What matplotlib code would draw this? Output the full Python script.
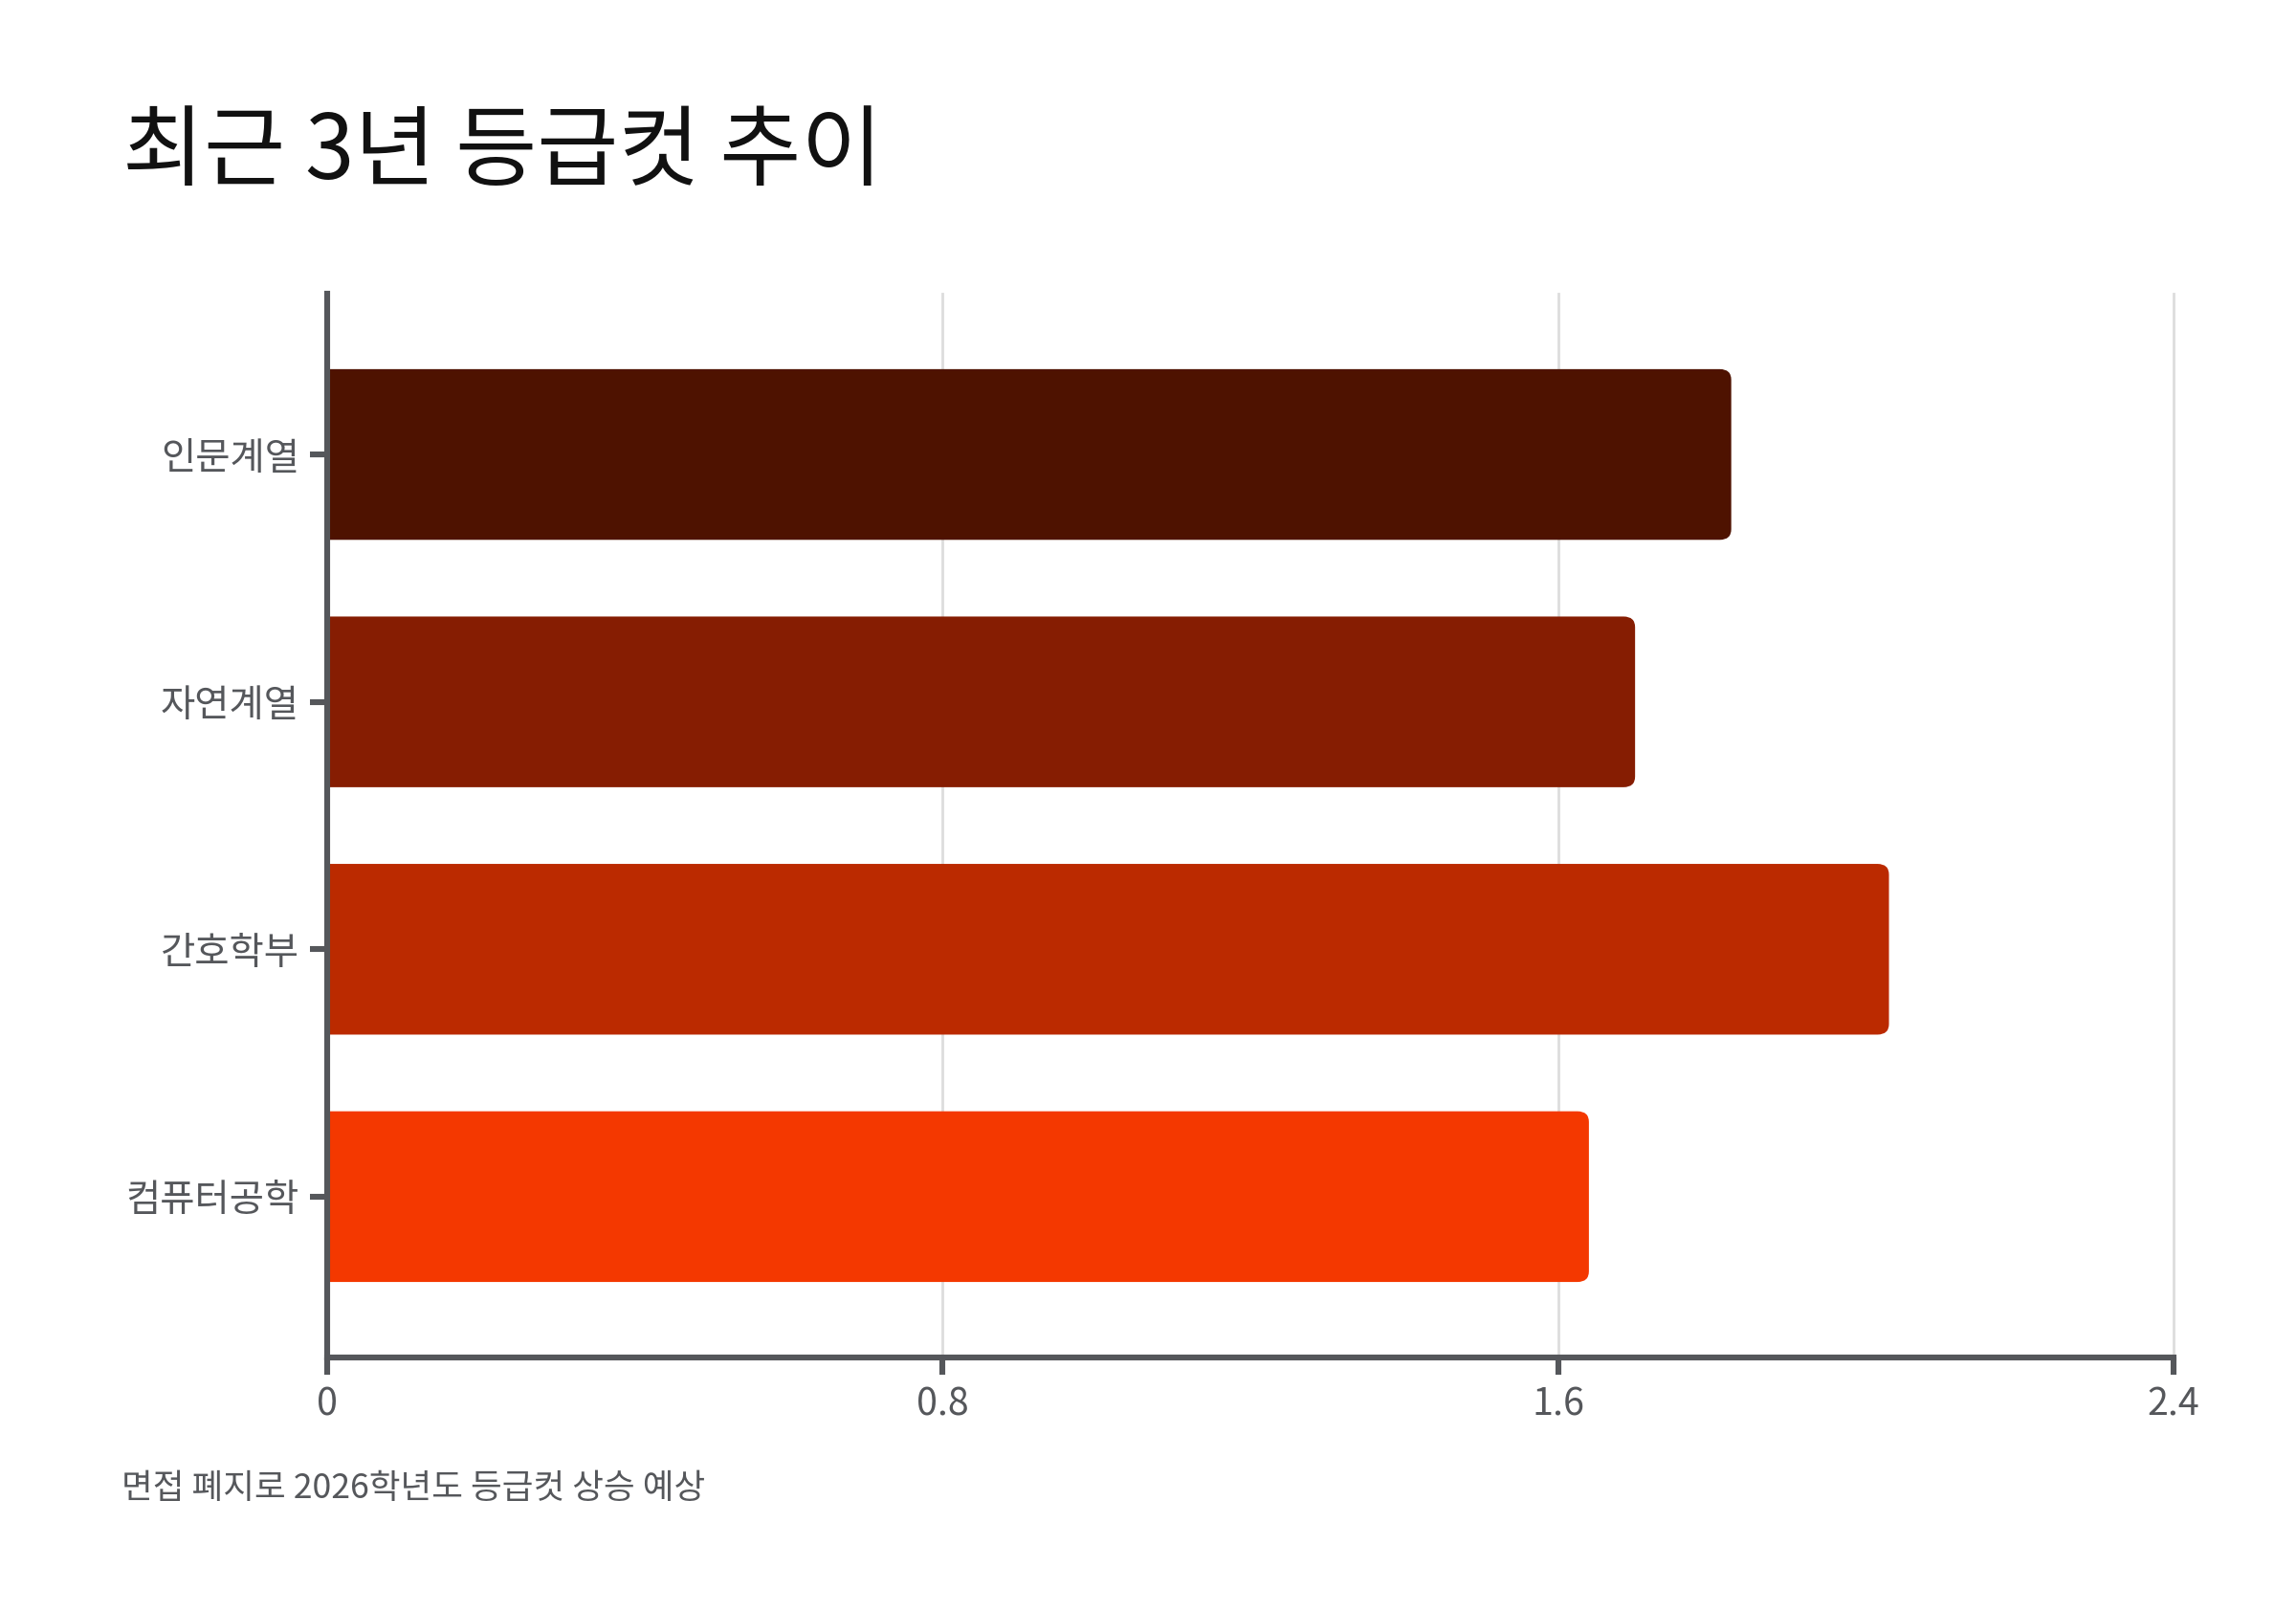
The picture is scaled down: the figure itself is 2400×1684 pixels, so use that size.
import matplotlib
matplotlib.use("Agg")
import matplotlib.pyplot as plt
from matplotlib.patches import FancyBboxPatch

plt.rcParams['font.family'] = ['Noto Sans CJK KR', 'DejaVu Sans']

categories = ["인문계열", "자연계열", "간호학부", "컴퓨터공학"]
values = [1.825, 1.70, 2.03, 1.64]
colors = ["#4E1200", "#861D02", "#BB2A00", "#F43800"]
xticks = [0, 0.8, 1.6, 2.4]
xticklabels = ["0", "0.8", "1.6", "2.4"]

title = "최근 3년 등급컷 추이"
note = "면접 폐지로 2026학년도 등급컷 상승 예상"

axis_color = "#55575B"
grid_color = "#DDDDDD"

fig = plt.figure(figsize=(12, 8.42), dpi=200)
ax = fig.add_axes([0.1425, 0.1574, 0.8042, 0.6603])
ax.set_xlim(0, 2.4)
ax.set_ylim(len(categories) - 0.35, -0.65)

# corner radius ~12px, converted to data units on both axes
bar_h = 0.69
w_px = ax.get_position().width * fig.get_figwidth() * fig.dpi
h_px = ax.get_position().height * fig.get_figheight() * fig.dpi
px_x = w_px / 2.4
px_y = h_px / len(categories)
rx = 12 / px_x
aspect = px_x / px_y

for i, (v, c) in enumerate(zip(values, colors)):
    p = FancyBboxPatch((-2 * rx, i - bar_h / 2), v + 2 * rx, bar_h,
                       boxstyle=f"round,pad=0,rounding_size={rx}",
                       mutation_aspect=aspect, fc=c, ec="none", zorder=2)
    ax.add_patch(p)

ax.set_yticks(range(len(categories)))
ax.set_yticklabels(categories)
ax.set_xticks(xticks)
ax.set_xticklabels(xticklabels)

ax.grid(axis="x", color=grid_color, lw=1.0, zorder=0)
ax.set_axisbelow(True)
for gl in ax.get_xgridlines():
    gl.set_clip_on(False)
for s in ["top", "right"]:
    ax.spines[s].set_visible(False)
for s in ["left", "bottom"]:
    ax.spines[s].set_color(axis_color)
    ax.spines[s].set_linewidth(2.2)
    ax.spines[s].set_zorder(3)

ax.tick_params(axis="both", colors=axis_color, width=2.2, length=6.5,
               labelsize=14.2, labelcolor=axis_color)
ax.tick_params(axis="y", pad=4)
ax.tick_params(axis="x", pad=4)

fig.text(128 / 2400, 1 - 113 / 1684, title, fontsize=33.3, color="#111111",
         ha="left", va="top")
fig.text(127 / 2400, 1 - 1556 / 1684, note, fontsize=12.8, color=axis_color,
         ha="left", va="center")

fig.savefig("out.png", dpi=200)
